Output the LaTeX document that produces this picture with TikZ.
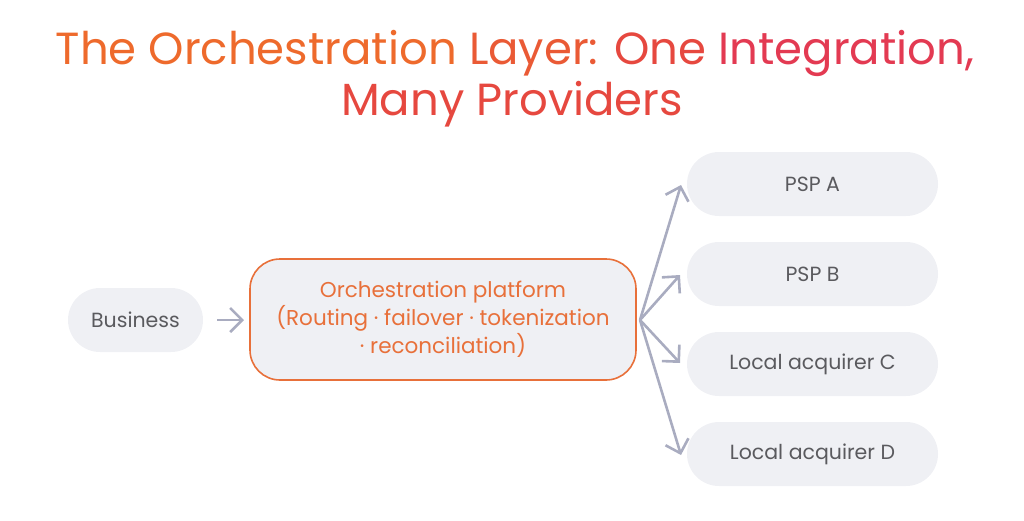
\documentclass[tikz,border=0pt]{standalone}
\usepackage{fontspec}
\setmainfont{Poppins}
\usetikzlibrary{arrows.meta}
\definecolor{boxfill}{HTML}{EFF0F4}
\definecolor{txt}{HTML}{5A5A5E}
\definecolor{orng}{HTML}{E8703A}
\definecolor{arr}{HTML}{A9ACC0}
\definecolor{tA}{HTML}{EE6A2C}
\definecolor{tB}{HTML}{EA5A35}
\definecolor{tC}{HTML}{E6483F}
\definecolor{tD}{HTML}{E33A52}
\definecolor{tE}{HTML}{E0306A}
\begin{document}
\begin{tikzpicture}[x=1pt,y=-1pt,
  pill/.style={fill=boxfill,draw=none,rounded corners=32pt,minimum height=64pt,text=txt,font=\fontsize{20.5}{24}\selectfont,inner sep=0pt},
  conn/.style={draw=arr,line width=2.6pt,-{Straight Barb[length=12pt,width=24pt,line width=2.6pt]}}]
\useasboundingbox (0,0) rectangle (1024,520);
\node[font=\fontsize{45}{50}\selectfont,inner sep=0pt] (t1) at (515,53) {\textcolor{tA}{The Orchestration} \textcolor{tB}{Layer:} \textcolor{tC}{One} \textcolor{tD}{Integration,}};
\node[font=\fontsize{45}{50}\selectfont,text=tC,inner sep=0pt] (t2) at (512,104) {Many Providers};
\node[pill,minimum width=135pt] (bus) at (135.5,320) {Business};
\node[fill=boxfill,draw=orng,line width=1.6pt,rounded corners=30pt,minimum width=386pt,minimum height=121pt,text=orng,align=center,font=\fontsize{21.5}{28}\selectfont,inner sep=0pt] (orch) at (443,319.5) {Orchestration platform\\(Routing · failover · tokenization\\· reconciliation)};
\node[pill,minimum width=251pt] (a) at (812.5,184) {PSP A};
\node[pill,minimum width=251pt] (b) at (812.5,274) {PSP B};
\node[pill,minimum width=251pt] (c) at (812.5,364) {Local acquirer C};
\node[pill,minimum width=251pt] (d) at (812.5,454) {Local acquirer D};
\coordinate (hub) at (640,320);
\draw[conn] (217,320) -- (244,320);
\draw[conn] (hub) -- (681,185);
\draw[conn] (hub) -- (680,275);
\draw[conn] (hub) -- (680,363);
\draw[conn] (hub) -- (681,455);
\end{tikzpicture}
\end{document}
